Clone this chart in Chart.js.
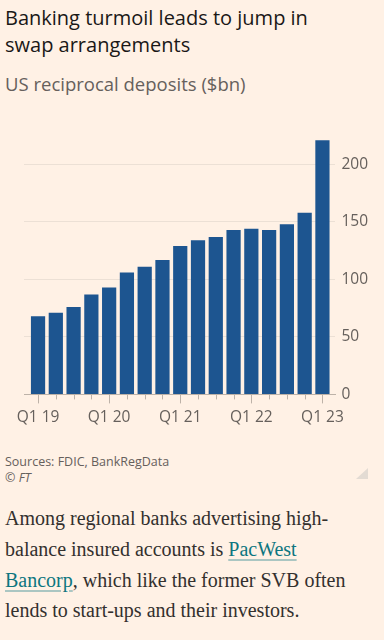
<!DOCTYPE html>
<html>
<head>
<meta charset="utf-8">
<script src="https://cdn.jsdelivr.net/npm/chart.js@4"></script>
<style>
  html, body { margin: 0; padding: 0; }
  body {
    width: 384px; height: 640px; overflow: hidden;
    background: #fff1e5; position: relative;
    font-family: "Open Sans", sans-serif;
  }
  .title {
    position: absolute; left: 5px; top: 5px; width: 330px;
    font-size: 20px; line-height: 26.5px; color: #1a1817;
  }
  .subtitle {
    position: absolute; left: 5px; top: 72px;
    font-size: 18.5px; line-height: 24px; color: #66605c;
  }
  .chart-box { position: absolute; left: 0; top: 111px; width: 384px; height: 330px; }
  .source {
    position: absolute; left: 5px; top: 454px;
    font-size: 12.5px; line-height: 16px; color: #66605c;
  }
  .source i { display: block; }
  .corner {
    position: absolute; left: 356px; top: 468px; width: 0; height: 0;
    border-left: 12px solid transparent; border-bottom: 11px solid #e3dbd3;
  }
  .body-text {
    position: absolute; left: 5px; top: 503px; width: 352px;
    font-family: "Liberation Serif", serif; font-size: 20px; line-height: 30.8px;
    color: #33302e;
  }
  .body-text a {
    color: #0d7680; text-decoration: underline;
    text-decoration-color: rgba(13,118,128,0.35); text-underline-offset: 3px;
  }
</style>
</head>
<body>
<div class="title">Banking turmoil leads to jump in swap arrangements</div>
<div class="subtitle">US reciprocal deposits ($bn)</div>
<div class="chart-box"><canvas id="chart"></canvas></div>
<div class="source">Sources: FDIC, BankRegData<i>© FT</i></div>
<div class="corner"></div>
<div class="body-text">Among regional banks advertising high-balance insured accounts is <a>PacWest Bancorp</a>, which like the former SVB often lends to start-ups and their investors.</div>

<script>
const quarters = [
  "Q1 19", "Q2 19", "Q3 19", "Q4 19",
  "Q1 20", "Q2 20", "Q3 20", "Q4 20",
  "Q1 21", "Q2 21", "Q3 21", "Q4 21",
  "Q1 22", "Q2 22", "Q3 22", "Q4 22",
  "Q1 23"
];
const deposits = [68, 71, 76, 87, 93, 106, 111, 117, 129, 134, 137, 143, 144, 143, 148, 158, 221];
const yTicks = [0, 50, 100, 150, 200];

const tickFont = { family: "Open Sans", size: 15.5 };

// draws the small tick marks below the axis, longer ones at each Q1
const quarterTicks = {
  id: "quarterTicks",
  afterDraw(chart) {
    const { ctx, scales: { x }, chartArea } = chart;
    ctx.save();
    ctx.strokeStyle = "#bdb2a8";
    ctx.lineWidth = 1;
    quarters.forEach((q, i) => {
      const px = Math.round(x.getPixelForValue(i)) + 0.5;
      const len = i % 4 === 0 ? 9 : 5;
      ctx.beginPath();
      ctx.moveTo(px, chartArea.bottom);
      ctx.lineTo(px, chartArea.bottom + len);
      ctx.stroke();
    });
    ctx.restore();
  }
};

new Chart(document.getElementById("chart"), {
  type: "bar",
  data: {
    datasets: [{
      data: quarters.map((q, i) => ({ x: i, y: deposits[i] })),
      backgroundColor: "#1d5590",
      borderWidth: 0,
      barPercentage: 0.8,
      categoryPercentage: 1
    }]
  },
  options: {
    responsive: true,
    maintainAspectRatio: false,
    animation: false,
    layout: { padding: { top: 19, right: 10, bottom: 0, left: 24 } },
    plugins: { legend: { display: false }, tooltip: { enabled: false } },
    scales: {
      x: {
        type: "linear",
        offset: false,
        bounds: "data",
        min: -0.79,
        max: 16.73,
        afterBuildTicks: (scale) => { scale.ticks = quarters.map((q, i) => ({ value: i })); },
        afterFit: (scale) => { scale.paddingLeft = 0; scale.paddingRight = 0; },
        grid: { display: false, drawTicks: false, offset: false },
        border: { display: true, color: "#bdb2a8", width: 1 },
        ticks: {
          autoSkip: false,
          maxRotation: 0,
          padding: 14,
          color: "#66605c",
          font: tickFont,
          callback: (v) => (v % 4 === 0 ? quarters[v] : "")
        }
      },
      y: {
        position: "right",
        min: 0,
        max: 230,
        afterBuildTicks: (scale) => { scale.ticks = yTicks.map(v => ({ value: v })); },
        grid: { color: "#ece0d5", drawTicks: false },
        border: { display: false },
        ticks: { padding: 6, color: "#66605c", font: tickFont }
      }
    }
  },
  plugins: [quarterTicks]
});
</script>
</body>
</html>
